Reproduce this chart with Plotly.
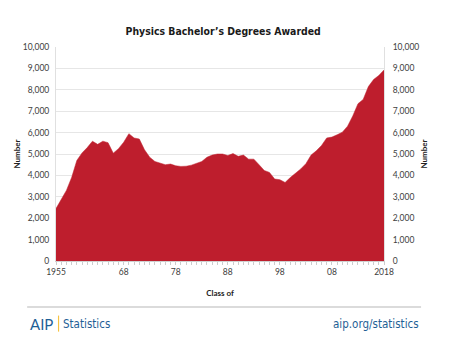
import plotly.graph_objects as go

years = list(range(1955, 2019))
degrees = [2450, 2900, 3300, 3900, 4700, 5050, 5300, 5600, 5450, 5600, 5530, 5040, 5250, 5550, 5950,
           5750, 5700, 5200, 4850, 4650, 4580, 4500, 4530, 4450, 4420, 4430, 4480, 4560, 4650, 4850,
           4950, 5000, 5000, 4930, 5020, 4890, 4950, 4760, 4760, 4500, 4230, 4140, 3830, 3800, 3670,
           3900, 4100, 4300, 4550, 4950, 5150, 5400, 5750, 5790, 5900, 6020, 6300, 6780, 7350, 7550,
           8150, 8480, 8670, 8930]

xtick_vals = [1955, 1968, 1978, 1988, 1998, 2008, 2018]
xtick_text = ["1955", "68", "78", "88", "98", "08", "2018"]

RED = "#BE1E2D"
BLUE = "#1F5F96"
COND = "DejaVu Sans Condensed, Liberation Sans Narrow, Roboto, sans-serif"
tickfont = dict(family="Lato, Carlito, sans-serif", size=8.5, color="#404040")

fig = go.Figure()
fig.add_trace(go.Scatter(x=years, y=degrees, mode="lines", fill="tozeroy",
                         line=dict(color=RED, width=0.5), fillcolor=RED,
                         hoverinfo="x+y", showlegend=False))
fig.add_trace(go.Scatter(x=years, y=degrees, yaxis="y2", mode="lines",
                         line=dict(width=0), opacity=0, showlegend=False, hoverinfo="skip"))

axis_title_font = dict(family="Lato, sans-serif", size=8, color="#222")

fig.update_layout(
    width=449, height=351,
    margin=dict(l=56, r=65, t=47, b=90),
    paper_bgcolor="white", plot_bgcolor="white",
    title=dict(text="Physics Bachelor’s Degrees Awarded", x=0.497, xanchor="center",
               y=0.912, yanchor="middle",
               font=dict(family=COND, size=10.4, color="#1a1a1a", weight=600)),
    xaxis=dict(range=[1955, 2018], tickvals=xtick_vals, ticktext=xtick_text,
               tickfont=tickfont, ticks="outside", ticklen=3, tickcolor="#cccccc",
               minor=dict(dtick=1, tick0=1955, ticks="outside", ticklen=3, tickcolor="#cccccc"),
               showgrid=False, showline=True, linecolor="#d0d0d0", linewidth=1,
               zeroline=False, automargin=False,
               title=dict(text="<b>Class of</b>", font=axis_title_font, standoff=14)),
    yaxis=dict(range=[0, 10000], dtick=1000, tickformat=",", tickfont=tickfont,
               gridcolor="#e6e6e6", gridwidth=1, showline=True, linecolor="#e0e0e0",
               zeroline=False, ticks="", ticklabelstandoff=4, automargin=False,
               title=dict(text="<b>Number</b>", font=axis_title_font, standoff=0)),
    yaxis2=dict(range=[0, 10000], dtick=1000, tickformat=",", tickfont=tickfont,
                overlaying="y", side="right", showgrid=False, showline=True,
                linecolor="#e0e0e0", zeroline=False, ticks="", ticklabelstandoff=6,
                automargin=False,
                title=dict(text="<b>Number</b>", font=axis_title_font, standoff=3)),
    shapes=[
        dict(type="line", xref="paper", yref="paper", x0=-0.088, x1=1.113, y0=-0.215, y1=-0.215,
             line=dict(color="#cfcfcf", width=1.5)),
        dict(type="rect", xref="paper", yref="paper", x0=0.006, x1=0.0095, y0=-0.33, y1=-0.255,
             line=dict(width=0), fillcolor="#F5C342"),
    ],
    annotations=[
        dict(text="AIP", xref="paper", yref="paper", x=-0.002, y=-0.293, xanchor="right",
             yanchor="middle", showarrow=False,
             font=dict(family="Lato, sans-serif", size=15, color=BLUE)),
        dict(text="Statistics", xref="paper", yref="paper", x=0.016, y=-0.293, xanchor="left",
             yanchor="middle", showarrow=False,
             font=dict(family=COND, size=11.5, color=BLUE, weight=500)),
        dict(text="aip.org/statistics", xref="paper", yref="paper", x=1.113, y=-0.293,
             xanchor="right", yanchor="middle", showarrow=False,
             font=dict(family=COND, size=11.5, color=BLUE, weight=500)),
    ],
)

fig.write_html("out.html")
